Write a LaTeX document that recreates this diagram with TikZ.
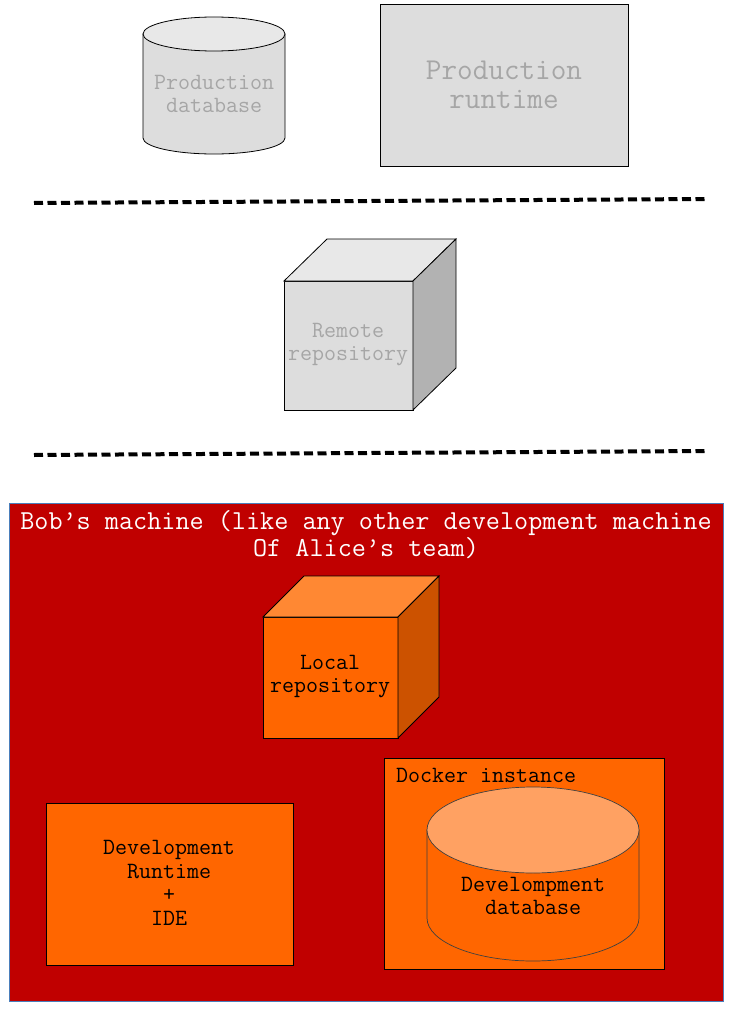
\documentclass[tikz,border=0pt]{standalone}
\usepackage{fontspec}
\usepackage{tikz}
\usetikzlibrary{positioning}
\definecolor{prodgray}{HTML}{DDDDDD}
\definecolor{prodtop}{HTML}{E8E8E8}
\definecolor{prodside}{HTML}{B2B2B2}
\definecolor{prodtext}{HTML}{A6A6A6}
\definecolor{bobred}{HTML}{C00000}
\definecolor{devorange}{HTML}{FF6600}
\definecolor{devtop}{HTML}{FF8833}
\definecolor{devside}{HTML}{CC5200}
\definecolor{dbtop}{HTML}{FFA162}
\definecolor{frameblue}{HTML}{4A7EBB}

\tikzset{
  lbl/.style={font=\ttfamily\fontsize{23.3}{23}\selectfont, align=center, inner sep=0pt},
  sepline/.style={line width=4pt, dash pattern=on 9pt off 4.5pt},
  box/.style={draw=black, line width=0.9pt}
}

\begin{document}
\begin{tikzpicture}[x=1pt, y=-1pt]
\useasboundingbox (0,0) rectangle (729,1011);

% production side
\filldraw[fill=prodgray, draw=black, line width=0.8pt] (143,34) -- (143,138) arc[start angle=180, end angle=0, x radius=71, y radius=16] -- (285,34) -- cycle;
\filldraw[fill=prodtop, draw=black, line width=0.8pt] (214,34) ellipse (71 and 17);
\node [lbl, text=prodtext] (proddb) at (214,94) {Production\\database};

\filldraw[fill=prodgray, draw=black, line width=0.8pt] (380,4) rectangle (628,166);
\node [lbl, text=prodtext, font=\ttfamily\fontsize{30.3}{29}\selectfont] (prodrt) at (504,85) {Production\\runtime};

\draw[sepline] (34,203) -- (705,199);

% remote repository
\filldraw[fill=prodgray, draw=black, line width=0.8pt] (284,281) rectangle (413,410);
\filldraw[fill=prodtop, draw=black, line width=0.8pt] (284,281) -- (327,239) -- (456,239) -- (413,281) -- cycle;
\filldraw[fill=prodside, draw=black, line width=0.8pt] (413,281) -- (456,239) -- (456,368) -- (413,410) -- cycle;
\node [lbl, text=prodtext] (remote) at (348,345) {Remote\\repository};

\draw[sepline] (34,455) -- (705,451);

% Bob's machine
\filldraw[fill=bobred, draw=frameblue, line width=0.6pt] (9,503) rectangle (723,1001);
\node [lbl, text=white, font=\ttfamily\fontsize{27.4}{27}\selectfont] (bob) at (366,535) {Bob’s machine (like any other development machine\\Of Alice’s team)};

\filldraw[fill=devorange, draw=black, line width=0.8pt] (263,617) rectangle (398,738);
\filldraw[fill=devtop, draw=black, line width=0.8pt] (263,617) -- (304,576) -- (439,576) -- (398,617) -- cycle;
\filldraw[fill=devside, draw=black, line width=0.8pt] (398,617) -- (439,576) -- (439,697) -- (398,738) -- cycle;
\node [lbl] (local) at (330,677) {Local\\repository};

\filldraw[box, fill=devorange] (46,803) rectangle (293,965);
\node [lbl, font=\ttfamily\fontsize{23.3}{23.5}\selectfont] (devrt) at (169,883) {Development\\Runtime\\+\\IDE};

\filldraw[box, fill=devorange] (384,758) rectangle (664,969);
\node [lbl, anchor=west] (docker) at (396,775) {Docker instance};

\filldraw[fill=devorange, draw=black!75, line width=0.7pt] (427,830) -- (427,918) arc[start angle=180, end angle=0, x radius=106, y radius=43] -- (639,830) -- cycle;
\filldraw[fill=dbtop, draw=black!75, line width=0.7pt] (533,830) ellipse (106 and 43);
\node [lbl] (devdb) at (533,896) {Develompment\\database};
\end{tikzpicture}
\end{document}
